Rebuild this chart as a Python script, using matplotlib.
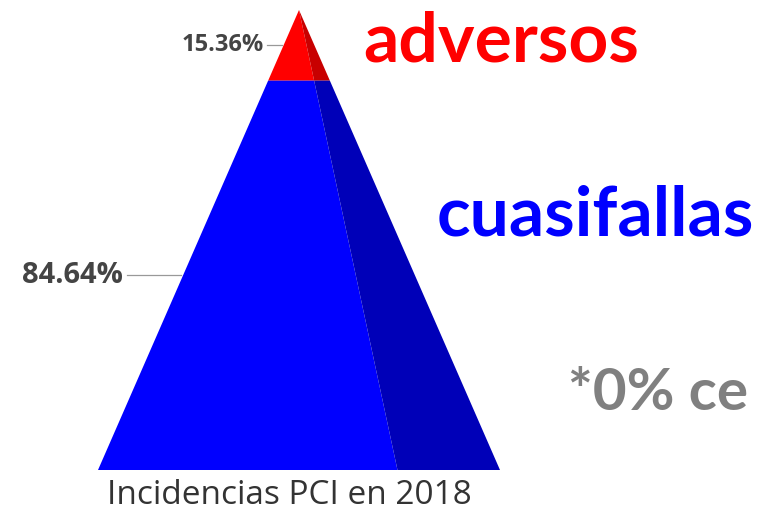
import matplotlib
matplotlib.use("Agg")
import matplotlib.pyplot as plt
from matplotlib.patches import Polygon

# data (share of incidents, top to bottom)
segments = ["adversos", "cuasifallas"]
shares = [15.36, 84.64]
colors = ["#ff0000", "#0000ff"]
dark_colors = ["#c80000", "#0000b8"]
labels = ["15.36%", "84.64%"]
title = "Incidencias PCI en 2018"
note = "*0% ce"
shade_x = 0.49  # where the shaded side meets the base

W, H = 758, 513
fig = plt.figure(figsize=(W / 100, H / 100), dpi=100)
ax = fig.add_axes([98 / W, (H - 470) / H, 402 / W, 460 / H])
ax.set_xlim(-1, 1)
ax.set_ylim(100, 0)
ax.axis("off")

top = 0.0
for share, c, dc in zip(shares, colors, dark_colors):
    bot = top + share
    # front face
    ax.add_patch(Polygon([(-top / 100, top), (shade_x * top / 100, top),
                          (shade_x * bot / 100, bot), (-bot / 100, bot)],
                         closed=True, facecolor=c, edgecolor="none"))
    # shaded side face
    ax.add_patch(Polygon([(shade_x * top / 100, top), (top / 100, top),
                          (bot / 100, bot), (shade_x * bot / 100, bot)],
                         closed=True, facecolor=dc, edgecolor="none"))
    top = bot

# percent labels with leader lines
fs = [17, 21]
gap = [0.08, 0.28]
top = 0.0
for share, lab, f, g in zip(shares, labels, fs, gap):
    mid = top + share / 2
    xedge = -mid / 100
    ax.plot([xedge - g, xedge - 0.01], [mid, mid],
            color="#999999", lw=0.9, clip_on=False)
    ax.text(xedge - g - 0.02, mid, lab, ha="right", va="center",
            fontsize=f, fontweight="bold", color="#444444", family="Open Sans",
            clip_on=False)
    top += share

fig.text(289 / W, 1 - 496 / H, title, ha="center", va="center", fontsize=24,
         color="#333333", family="Open Sans")

fig.text(363 / W, 1 - 62 / H, segments[0], ha="left", va="baseline", fontsize=50,
         fontweight="bold", color="#ff0000", family="Lato")
fig.text(437 / W, 1 - 236 / H, segments[1], ha="left", va="baseline", fontsize=50,
         fontweight="bold", color="#0000ff", family="Lato")
fig.text(568 / W, 1 - 410 / H, note, ha="left", va="baseline", fontsize=42,
         fontweight="bold", color="#808080", family="Lato")

fig.savefig("out.png", dpi=100)
